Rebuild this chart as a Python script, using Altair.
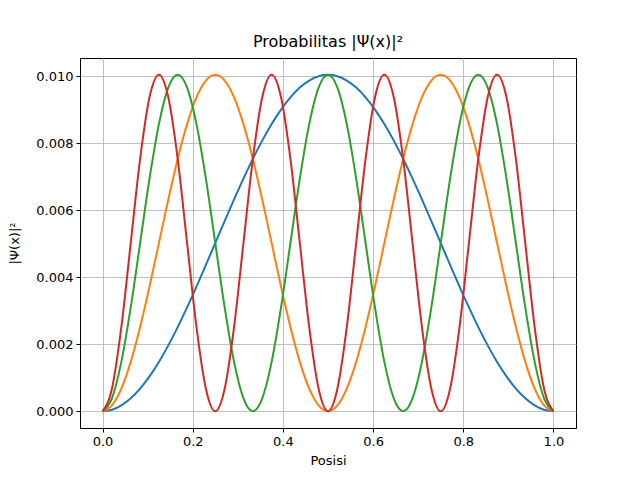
import altair as alt
import pandas as pd
import numpy as np

x_vals = list(np.linspace(0, 1, 49))

psi1 = [0, 0.000043, 0.000171, 0.000383, 0.000673, 0.001038, 0.001472, 0.001966, 0.002513,
        0.003102, 0.003724, 0.004369, 0.005025, 0.005681, 0.006326, 0.006948, 0.007538,
        0.008084, 0.008578, 0.009012, 0.009377, 0.009668, 0.009879, 0.010007, 0.01005,
        0.010007, 0.009879, 0.009668, 0.009377, 0.009012, 0.008578, 0.008084, 0.007538,
        0.006948, 0.006326, 0.005681, 0.005025, 0.004369, 0.003724, 0.003102, 0.002513,
        0.001966, 0.001472, 0.001038, 0.000673, 0.000383, 0.000171, 0.000043, 0]

psi2 = [0, 0.000171, 0.000673, 0.001472, 0.002513, 0.003724, 0.005025, 0.006326, 0.007538,
        0.008578, 0.009377, 0.009879, 0.01005,
        0.009879, 0.009377, 0.008578, 0.007538, 0.006326, 0.005025, 0.003724, 0.002513,
        0.001472, 0.000673, 0.000171, 0,
        0.000171, 0.000673, 0.001472, 0.002513, 0.003724, 0.005025, 0.006326, 0.007538,
        0.008578, 0.009377, 0.009879, 0.01005,
        0.009879, 0.009377, 0.008578, 0.007538, 0.006326, 0.005025, 0.003724, 0.002513,
        0.001472, 0.000673, 0.000171, 0]

psi3 = [0, 0.000383, 0.001472, 0.003102, 0.005025, 0.006948, 0.008578, 0.009668, 0.01005,
        0.009668, 0.008578, 0.006948, 0.005025, 0.003102, 0.001472, 0.000383, 0,
        0.000383, 0.001472, 0.003102, 0.005025, 0.006948, 0.008578, 0.009668, 0.01005,
        0.009668, 0.008578, 0.006948, 0.005025, 0.003102, 0.001472, 0.000383, 0,
        0.000383, 0.001472, 0.003102, 0.005025, 0.006948, 0.008578, 0.009668, 0.01005,
        0.009668, 0.008578, 0.006948, 0.005025, 0.003102, 0.001472, 0.000383, 0]

psi4 = [0, 0.000673, 0.002513, 0.005025, 0.007538, 0.009377, 0.01005,
        0.009377, 0.007538, 0.005025, 0.002513, 0.000673, 0,
        0.000673, 0.002513, 0.005025, 0.007538, 0.009377, 0.01005,
        0.009377, 0.007538, 0.005025, 0.002513, 0.000673, 0,
        0.000673, 0.002513, 0.005025, 0.007538, 0.009377, 0.01005,
        0.009377, 0.007538, 0.005025, 0.002513, 0.000673, 0,
        0.000673, 0.002513, 0.005025, 0.007538, 0.009377, 0.01005,
        0.009377, 0.007538, 0.005025, 0.002513, 0.000673, 0]

series = {"n1": psi1, "n2": psi2, "n3": psi3, "n4": psi4}
colors = ["#1f77b4", "#ff7f0e", "#2ca02c", "#d62728"]

rows = []
for name, vals in series.items():
    for xv, yv in zip(x_vals, vals):
        rows.append({"x": float(xv), "y": yv, "n": name})
df = pd.DataFrame(rows)

chart = alt.Chart(df).mark_line(strokeWidth=2, interpolate="monotone", clip=True).encode(
    x=alt.X("x:Q", title="Posisi",
            scale=alt.Scale(domain=[-0.05, 1.05], nice=False, zero=False),
            axis=alt.Axis(values=[0, 0.2, 0.4, 0.6, 0.8, 1.0], format=".1f")),
    y=alt.Y("y:Q", title="|Ψ(x)|²",
            scale=alt.Scale(domain=[-0.0005025, 0.0105525], nice=False, zero=False),
            axis=alt.Axis(values=[0, 0.002, 0.004, 0.006, 0.008, 0.010], format=".3f")),
    color=alt.Color("n:N", scale=alt.Scale(domain=list(series.keys()), range=colors), legend=None),
    order=alt.Order("x:Q"),
).properties(
    width=496, height=370,
    title=alt.TitleParams("Probabilitas |Ψ(x)|²", fontSize=16, font="DejaVu Sans",
                          fontWeight="normal", color="black", offset=8),
    autosize="none",
    padding={"left": 80, "top": 58, "right": 64, "bottom": 52},
).configure_view(
    stroke="black", strokeWidth=1
).configure_axis(
    grid=True, gridColor="#b0b0b0", gridWidth=0.8,
    domainColor="black", domainWidth=1, tickColor="black", tickSize=4, tickWidth=1,
    labelFont="DejaVu Sans", labelFontSize=13, labelColor="black", labelPadding=3,
    titleFont="DejaVu Sans", titleFontSize=13, titleColor="black", titleFontWeight="normal",
).configure_axisX(titlePadding=6).configure_axisY(titlePadding=14)

chart.save("out.html", embed_options={"renderer": "svg", "actions": False})
